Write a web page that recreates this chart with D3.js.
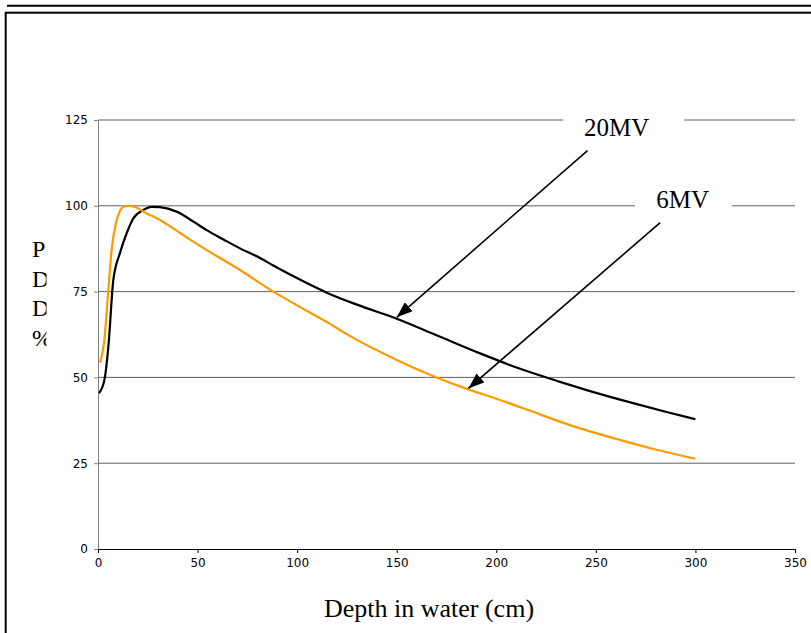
<!doctype html>
<html lang="en">
<head>
<meta charset="utf-8">
<title>PDD curves</title>
<script src="https://d3js.org/d3.v7.min.js"></script>
<style>
    body { margin: 0; background: #fff; }
    .tick text { font-family: "DejaVu Sans", sans-serif; font-size: 12px; fill: #000; }
    .serif { font-family: "Liberation Serif", "Times New Roman", serif; fill: #000; }
</style>
</head>
<body>
<div id="chart"></div>
<script>

// depth (cm) and percent depth dose
var depth6 = [1, 3.2, 5, 7, 9, 11, 13, 15, 19, 22.8, 25, 29.5, 37.8, 46, 54.6, 63, 71.3, 80, 88, 96, 104.8, 116.5, 124.9, 150, 170, 186, 200, 213.6, 237, 262, 280, 300];
var pdd6   = [54.3, 61, 74, 88, 95, 98.5, 99.8, 100, 99.6, 98.3, 97.6, 96.4, 93.4, 90.2, 87.1, 84.2, 81.3, 78, 75, 72.3, 69.4, 65.6, 62.6, 55.1, 50, 46.5, 43.8, 41, 36.1, 31.8, 29, 26.3];

var depth20 = [0.5, 3.2, 5.2, 7.7, 11, 14.4, 17.7, 22.8, 27, 31, 39.5, 47.9, 54.6, 63, 71.3, 80, 88, 96, 104.8, 114.9, 130, 150, 170, 191.9, 212, 232, 245.4, 270.6, 285, 300];
var pdd20   = [45.4, 49.2, 58.9, 78.4, 86.2, 92, 96.3, 98.8, 99.7, 99.6, 98.3, 95.4, 92.9, 90.2, 87.6, 85.2, 82.6, 80.1, 77.5, 74.7, 71.2, 67.1, 62.3, 57, 52.5, 48.7, 46.3, 42.2, 40, 37.8];

var xTicks = [0, 50, 100, 150, 200, 250, 300, 350];
var yTicks = [0, 25, 50, 75, 100, 125];

// annotation labels and arrows, in data units
var labelText = ["20MV", "6MV"];
var labelX    = [260.4, 293.6];
var labelY    = [120.3, 99.4];
var boxFrom   = [233.6, 269.7];
var boxTo     = [294.3, 318.4];
var arrowFrom = [[245.8, 116.1], [282.3, 95.1]];
var arrowTo   = [[150, 67.5], [186, 46.8]];

var width = 811;
var height = 633;

var svg = d3.select("#chart").append("svg")
    .attr("width", width)
    .attr("height", height);

// frame lines round the chart
svg.append("line")
    .attr("x1", 7).attr("x2", width)
    .attr("y1", 5.7).attr("y2", 5.7)
    .attr("stroke", "#000").attr("stroke-width", 2);
svg.append("rect")
    .attr("x", 5.7).attr("y", 12.7)
    .attr("width", 900).attr("height", 700)
    .attr("fill", "none").attr("stroke", "#000").attr("stroke-width", 2);

var x = d3.scaleLinear().domain([0, 350]).range([98, 795]);
var y = d3.scaleLinear().domain([0, 125]).range([549, 120]);

// gridlines
svg.append("g").selectAll("line")
    .data(yTicks.filter(function(d) { return d > 0; }))
    .enter().append("line")
    .attr("x1", x(0)).attr("x2", x(350))
    .attr("y1", function(d) { return y(d); })
    .attr("y2", function(d) { return y(d); })
    .attr("stroke", "#606060").attr("stroke-width", 1);

// y axis (grey)
var yAxis = svg.append("g")
    .attr("transform", "translate(" + x(0) + ",0)")
    .call(d3.axisLeft(y).tickValues(yTicks).tickSize(4).tickSizeOuter(0).tickPadding(6));
yAxis.select(".domain").attr("stroke", "#808080");
yAxis.selectAll(".tick line").attr("stroke", "#808080");

// x axis (black)
var xAxis = svg.append("g")
    .attr("transform", "translate(0," + y(0) + ")")
    .call(d3.axisBottom(x).tickValues(xTicks).tickSize(4).tickSizeOuter(0).tickPadding(5));
xAxis.select(".domain").attr("stroke", "#000").attr("stroke-width", 1.2);

// curves
function drawCurve(xs, ys, colour) {
    var pts = xs.map(function(d, i) { return [d, ys[i]]; });
    svg.append("path")
        .datum(pts)
        .attr("fill", "none")
        .attr("stroke", colour)
        .attr("stroke-width", 2.2)
        .attr("stroke-linejoin", "round")
        .attr("d", d3.line()
            .curve(d3.curveMonotoneX)
            .x(function(p) { return x(p[0]); })
            .y(function(p) { return y(p[1]); }));
}
drawCurve(depth20, pdd20, "#000");
drawCurve(depth6, pdd6, "#FF9900");

// arrow head
svg.append("defs").append("marker")
    .attr("id", "head")
    .attr("markerUnits", "userSpaceOnUse")
    .attr("viewBox", "0 0 16 12")
    .attr("refX", 16).attr("refY", 6)
    .attr("markerWidth", 16).attr("markerHeight", 12)
    .attr("orient", "auto")
    .append("path")
    .attr("d", "M0,0 L16,6 L0,12 Z")
    .attr("fill", "#000");

// label boxes, text and arrows
labelText.forEach(function(t, i) {
    svg.append("rect")
        .attr("x", x(boxFrom[i]))
        .attr("y", y(labelY[i]) - 24)
        .attr("width", x(boxTo[i]) - x(boxFrom[i]))
        .attr("height", 30)
        .attr("fill", "#fff");
    svg.append("text")
        .attr("class", "serif")
        .attr("x", x(labelX[i]))
        .attr("y", y(labelY[i]))
        .attr("text-anchor", "middle")
        .style("font-size", "25px")
        .text(t);
    svg.append("line")
        .attr("x1", x(arrowFrom[i][0])).attr("y1", y(arrowFrom[i][1]))
        .attr("x2", x(arrowTo[i][0])).attr("y2", y(arrowTo[i][1]))
        .attr("stroke", "#000").attr("stroke-width", 1.6)
        .attr("marker-end", "url(#head)");
});

// y axis title, one letter per line, clipped at the right like the original
svg.append("clipPath").attr("id", "ytclip")
    .append("rect").attr("x", 0).attr("y", 200).attr("width", 46.5).attr("height", 200);
var ytitle = svg.append("text")
    .attr("class", "serif")
    .attr("clip-path", "url(#ytclip)")
    .style("font-size", "24px");
["P", "D", "D", "%"].forEach(function(ch, i) {
    ytitle.append("tspan")
        .attr("x", 32)
        .attr("y", 257 + i * 29.7)
        .text(ch);
});

// x axis title
svg.append("text")
    .attr("class", "serif")
    .attr("x", 429)
    .attr("y", 617)
    .attr("text-anchor", "middle")
    .style("font-size", "26px")
    .text("Depth in water (cm)");

</script>
</body>
</html>
